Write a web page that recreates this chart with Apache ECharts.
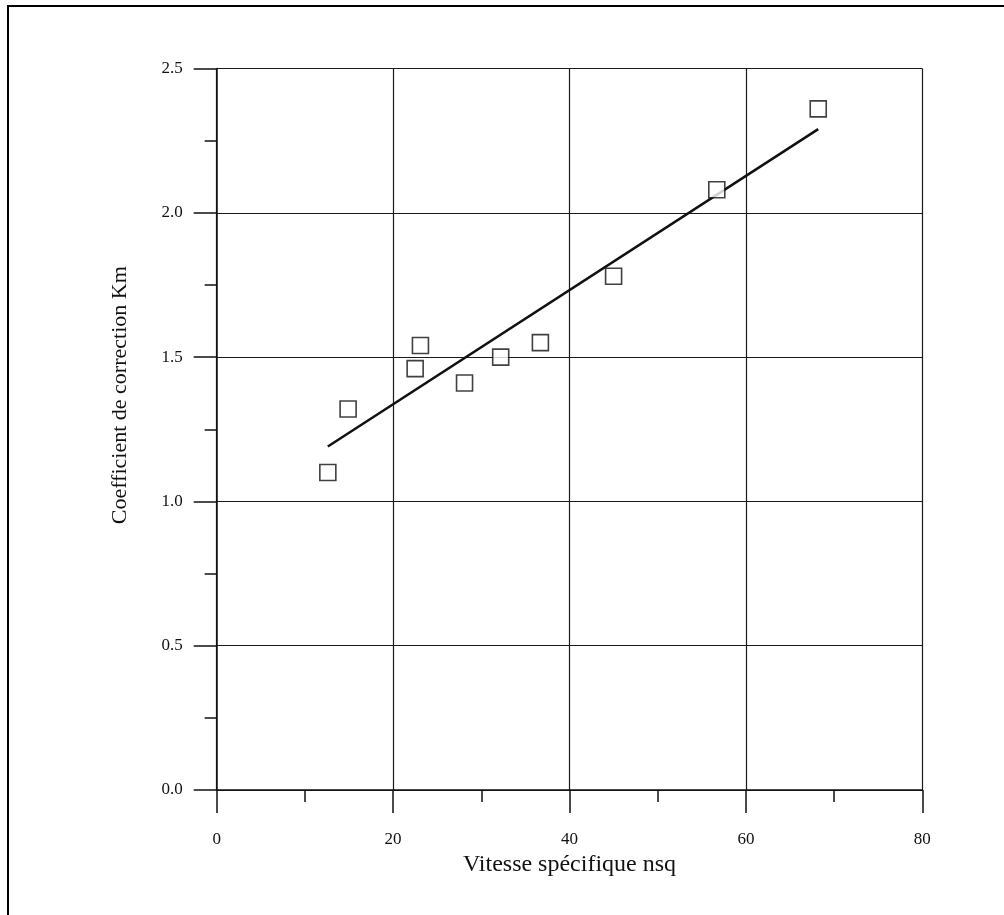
<!DOCTYPE html>
<html>
<head>
<meta charset="utf-8">
<title>Coefficient de correction Km</title>
<script src="https://cdn.jsdelivr.net/npm/echarts@6/dist/echarts.min.js"></script>
<style>
  html, body {
    margin: 0;
    padding: 0;
    width: 1004px;
    height: 915px;
    overflow: hidden;
    background: #fff;
  }
  .frame {
    position: absolute;
    left: 7px;
    top: 5px;
    width: 1100px;
    height: 1000px;
    border: 2px solid #000;
  }
  #chart {
    position: absolute;
    left: 0;
    top: 0;
    width: 1004px;
    height: 915px;
  }
</style>
</head>
<body>
<div class="frame"></div>
<div id="chart"></div>
<script>
// points mesurés (vitesse spécifique / coefficient Km)
const nsqValues = [12.6, 14.9, 22.5, 23.1, 28.1, 32.2, 36.7, 45.0, 56.7, 68.2]
const kmValues = [1.10, 1.32, 1.46, 1.54, 1.41, 1.50, 1.55, 1.78, 2.08, 2.36]

// droite d'ajustement (extrémités)
const fitX = [12.6, 68.2]
const fitY = [1.19, 2.29]

const xTicks = [0, 20, 40, 60, 80]
const yTicks = [0, 0.5, 1.0, 1.5, 2.0, 2.5]

const serif = '"Liberation Serif", "DejaVu Serif", serif'
const ink = '#111'

const initChart = () => {
  const chart = echarts.init(document.getElementById('chart'), null, { renderer: 'canvas' })

  const option = {
    animation: false,
    backgroundColor: 'transparent',
    grid: {
      left: 216.7,
      top: 68.5,
      right: 81.7,
      bottom: 125,
      containLabel: false
    },
    xAxis: {
      type: 'value',
      min: xTicks[0],
      max: xTicks[xTicks.length - 1],
      interval: 20,
      name: 'Vitesse spécifique nsq',
      nameLocation: 'middle',
      nameGap: 59,
      nameTextStyle: { fontFamily: serif, fontSize: 24, color: ink },
      axisLine: { lineStyle: { color: ink, width: 1.5 } },
      axisTick: { length: 23, lineStyle: { color: ink, width: 1.5 } },
      minorTick: { show: true, splitNumber: 2, length: 12, lineStyle: { color: ink, width: 1.5 } },
      axisLabel: { margin: 41, fontFamily: serif, fontSize: 17, color: ink },
      splitLine: { show: true, lineStyle: { color: '#1a1a1a', width: 1.2 } }
    },
    yAxis: {
      type: 'value',
      min: yTicks[0],
      max: yTicks[yTicks.length - 1],
      interval: 0.5,
      name: 'Coefficient de correction Km',
      nameLocation: 'middle',
      nameGap: 85,
      // le titre est un peu au-dessus du milieu de l'axe
      nameTextStyle: { fontFamily: serif, fontSize: 22, color: ink, padding: [0, 0, 0, 68] },
      axisLine: { lineStyle: { color: ink, width: 1.5 } },
      axisTick: { length: 23, lineStyle: { color: ink, width: 1.5 } },
      minorTick: { show: true, splitNumber: 2, length: 12, lineStyle: { color: ink, width: 1.5 } },
      axisLabel: {
        margin: 34,
        fontFamily: serif,
        fontSize: 17,
        color: ink,
        formatter: (v) => v.toFixed(1)
      },
      splitLine: { show: true, lineStyle: { color: '#1a1a1a', width: 1.2 } }
    },
    series: [
      {
        name: 'mesures',
        type: 'scatter',
        data: nsqValues.map((x, i) => [x, kmValues[i]]),
        symbol: 'rect',
        symbolSize: 16,
        itemStyle: { color: '#fff', borderColor: ink, borderWidth: 1.6 },
        z: 3
      },
      {
        name: 'ajustement',
        type: 'line',
        data: fitX.map((x, i) => [x, fitY[i]]),
        symbol: 'none',
        lineStyle: { color: ink, width: 2.5 },
        z: 2
      }
    ]
  }

  chart.setOption(option)
}

initChart()
</script>
</body>
</html>
